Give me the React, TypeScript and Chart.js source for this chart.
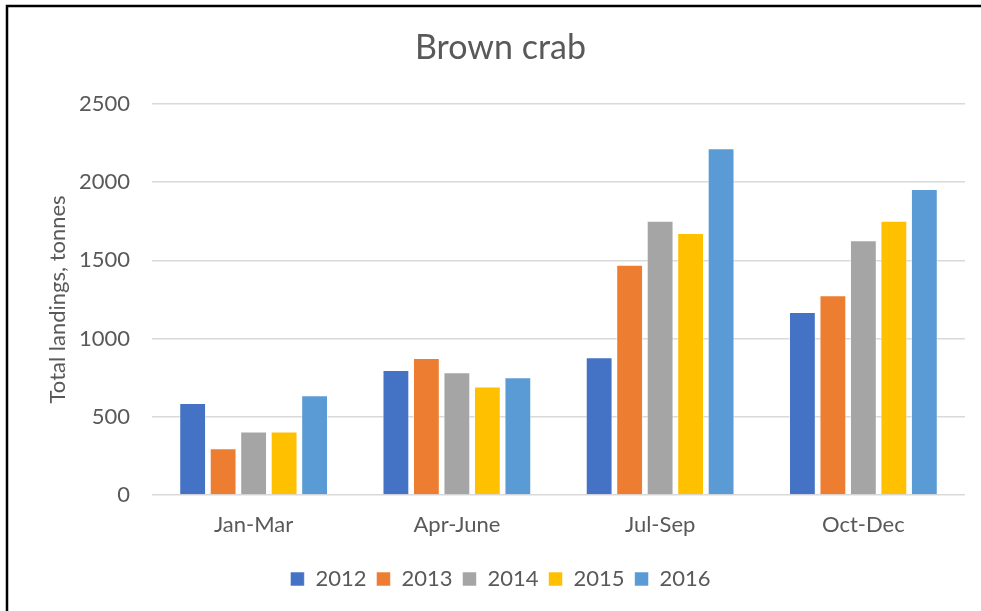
import React, { useEffect, useRef } from "react";
import { Chart, registerables } from "chart.js";

Chart.register(...registerables);

const quarters = ["Jan-Mar", "Apr-June", "Jul-Sep", "Oct-Dec"];
const years = ["2012", "2013", "2014", "2015", "2016"];

const landings2012 = [588, 799, 880, 1169];
const landings2013 = [299, 876, 1472, 1276];
const landings2014 = [406, 784, 1752, 1628];
const landings2015 = [406, 694, 1675, 1752];
const landings2016 = [637, 752, 2216, 1955];

const yTicks = [0, 500, 1000, 1500, 2000, 2500];

const seriesValues = [landings2012, landings2013, landings2014, landings2015, landings2016];
const seriesColors = ["#4472C4", "#ED7D31", "#A5A5A5", "#FFC000", "#5B9BD5"];

const FONT = "Lato, 'Open Sans', sans-serif";
const TEXT = "#595959";

// Black frame along the top and left edges of the figure
const framePlugin = {
  id: "frame",
  beforeDraw(chart: any) {
    const ctx = chart.ctx;
    ctx.save();
    ctx.fillStyle = "#fff";
    ctx.fillRect(0, 0, chart.width, chart.height);
    ctx.strokeStyle = "#000";
    ctx.lineWidth = 2.5;
    ctx.beginPath();
    ctx.moveTo(7, chart.height + 2);
    ctx.lineTo(7, 6);
    ctx.lineTo(chart.width + 2, 6);
    ctx.stroke();
    ctx.restore();
  },
};

export default function App() {
  const canvasRef = useRef<HTMLCanvasElement | null>(null);

  useEffect(() => {
    if (!canvasRef.current) return;
    const chart = new Chart(canvasRef.current, {
      type: "bar",
      data: {
        labels: quarters,
        datasets: years.map((y, i) => ({
          label: y,
          data: seriesValues[i],
          backgroundColor: seriesColors[i],
          borderColor: "rgba(255,255,255,0.55)",
          borderWidth: 1,
          categoryPercentage: 0.75,
          barPercentage: 0.88,
        })),
      },
      options: {
        animation: false,
        responsive: false,
        devicePixelRatio: 1,
        layout: { padding: { left: 36, right: 16, top: 0, bottom: 11 } },
        plugins: {
          title: {
            display: true,
            text: "Brown crab",
            color: TEXT,
            font: { family: FONT, size: 34, weight: "normal", lineHeight: 1.2 },
            padding: { top: 28, bottom: 35 },
          },
          legend: {
            position: "bottom",
            labels: {
              color: TEXT,
              font: { family: FONT, size: 22 },
              boxWidth: 14,
              boxHeight: 14,
              padding: 10,
            },
          },
          tooltip: { enabled: false },
        },
        scales: {
          x: {
            grid: { display: false, drawTicks: false },
            border: { display: false },
            ticks: { color: TEXT, font: { family: FONT, size: 22 }, padding: 17 },
            afterFit: (scale: any) => {
              scale.height = 63;
            },
          },
          y: {
            min: 0,
            max: 2500,
            afterBuildTicks: (scale: any) => {
              scale.ticks = yTicks.map((v) => ({ value: v }));
            },
            grid: { color: "#d9d9d9", lineWidth: 1.5, drawTicks: false },
            border: { display: false },
            ticks: {
              color: TEXT,
              font: { family: FONT, size: 22 },
              padding: 22,
              callback: (v: any) => String(v),
            },
            title: {
              display: true,
              text: "Total landings, tonnes",
              color: TEXT,
              font: { family: FONT, size: 22 },
              padding: { top: 9, bottom: 0 },
            },
            afterFit: (scale: any) => {
              scale.width = 116;
            },
          },
        },
      },
      plugins: [framePlugin],
    });
    return () => chart.destroy();
  }, []);

  return (
    <div style={{ position: "fixed", left: 0, top: 0, width: 981, height: 611, overflow: "hidden", background: "#fff" }}>
      <canvas ref={canvasRef} width={981} height={611} style={{ position: "absolute", left: 0, top: 0, display: "block" }} />
    </div>
  );
}
